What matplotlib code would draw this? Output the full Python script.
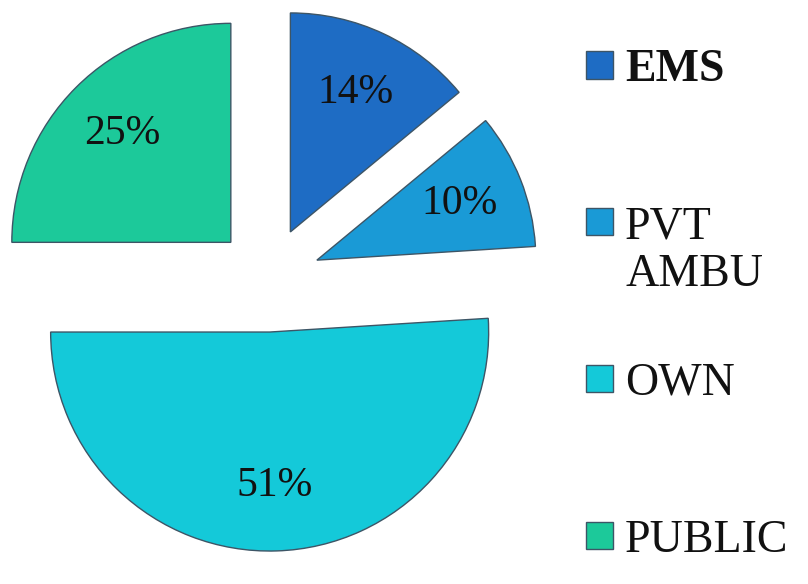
import matplotlib
matplotlib.use("Agg")
import matplotlib.pyplot as plt
from matplotlib.patches import Rectangle

categories = ["EMS", "PVT\nAMBU", "OWN", "PUBLIC"]
values = [14, 10, 51, 25]
colors = ["#1E6CC4", "#1A9AD6", "#14C9D9", "#1CC99A"]
explode = [0.24, 0.24, 0.24, 0.24]

plt.rcParams['font.family'] = ['Liberation Serif', 'DejaVu Serif']

W, H = 808, 584
fig = plt.figure(figsize=(W / 100, H / 100), dpi=100)
ax = fig.add_axes([0, 0, 1, 1])

R = 219.0
cx, cy = 268.0, 279.5
wedges, texts, autotexts = ax.pie(
    values, colors=colors, explode=explode, startangle=90, counterclock=False,
    autopct=lambda p: f"{p:.0f}%", pctdistance=0.7,
    wedgeprops=dict(edgecolor="#3d5566", linewidth=1.0),
    textprops=dict(fontsize=30, color="#111111"))

ax.set_xlim(-cx / R, (W - cx) / R)
ax.set_ylim(-(H - cy) / R, cy / R)
ax.set_aspect('auto')
ax.axis('off')

# legend drawn manually: evenly spaced entries, marker aligned with first line
y0, step = 65.0, 156.7
for i, (lab, c) in enumerate(zip(categories, colors)):
    yc = y0 + step * i
    fig.patches.append(Rectangle(((586) / W, 1 - (yc + 13.5) / H), 27 / W, 27 / H,
                                 transform=fig.transFigure, facecolor=c,
                                 edgecolor="#3d5566", linewidth=1.0))
    fig.text(625 / W, 1 - (yc - 16) / H, lab, fontsize=33, va='top', ha='left',
             linespacing=1.16, fontweight='bold' if i == 0 else 'normal', color="#111111")

fig.savefig("out.png", dpi=100)
